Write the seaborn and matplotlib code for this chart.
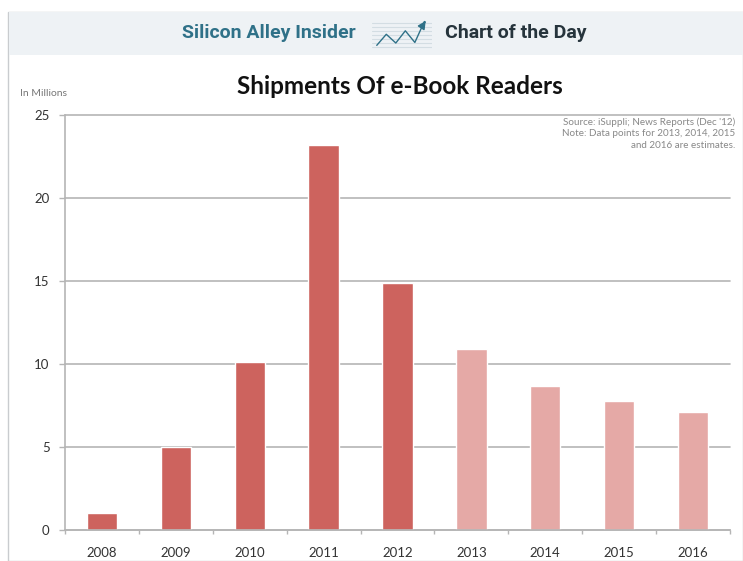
import matplotlib
matplotlib.use("Agg")
import matplotlib.pyplot as plt
from matplotlib.patches import Rectangle
import seaborn as sns
import pandas as pd

years = ["2008", "2009", "2010", "2011", "2012", "2013", "2014", "2015", "2016"]
shipments = [1.0, 5.0, 10.1, 23.2, 14.9, 10.9, 8.7, 7.8, 7.1]
kinds = ["Actual"] * 5 + ["Estimate"] * 4
y_ticks = [0, 5, 10, 15, 20, 25]
icon_x = [0, 1, 2, 3, 4, 5]
icon_y = [0.5, 2.4, 0.9, 3.0, 1.0, 4.6]

W, H = 743, 561
sns.set_theme(style="white")
plt.rcParams["font.family"] = ["Lato", "DejaVu Sans"]
fig = plt.figure(figsize=(W / 100, H / 100), dpi=100, facecolor="white")

# page frame and header band
fig.add_artist(Rectangle((8 / W, 0), (W - 8) / W, 1 - 12 / H, transform=fig.transFigure,
                         facecolor="white", edgecolor="#c9cccf", linewidth=1.0, zorder=-2))
fig.add_artist(Rectangle((9 / W, 1 - 55 / H), (W - 9) / W, 43 / H, transform=fig.transFigure,
                         facecolor="#eef2f5", edgecolor="none", zorder=-1))

fig.text(269 / W, 1 - 33 / H, "Silicon Alley Insider", family="Roboto", weight="bold",
         fontsize=14, color="#2f7188", ha="center", va="center")
fig.text(516 / W, 1 - 33 / H, "Chart of the Day", family="Roboto", weight="bold",
         fontsize=14, color="#26343c", ha="center", va="center")
fig.text(400 / W, 1 - 86 / H, "Shipments Of e-Book Readers", weight="bold",
         fontsize=17.5, color="#111111", ha="center", va="center")
fig.text(20 / W, 1 - 93 / H, "In Millions", fontsize=7.5, color="#777777", ha="left", va="center")

# header icon
icon = fig.add_axes([372 / W, 1 - 50 / H, 60 / W, 32 / H], facecolor="none")
for yy in [0.2, 0.9, 1.6, 2.3, 3.0, 3.7, 4.4]:
    icon.axhline(yy, color="#d3dde3", lw=0.8)
sns.lineplot(x=icon_x, y=icon_y, ax=icon, color="#2f7188", lw=1.0)
icon.annotate("", xy=(5.3, 5.1), xytext=(4.9, 4.1),
              arrowprops=dict(arrowstyle="-|>", color="#2f7188", lw=1))
icon.set(xlim=(-0.5, 5.8), ylim=(-0.3, 5.2), xlabel="", ylabel="", xticks=[], yticks=[])
sns.despine(ax=icon, left=True, bottom=True)

# main chart
df = pd.DataFrame({"year": years, "shipments": shipments, "kind": kinds})
ax = fig.add_axes([65 / W, 1 - 530 / H, 665 / W, 415 / H], facecolor="none")
ax.set_axisbelow(True)
sns.barplot(data=df, x="year", y="shipments", hue="kind", dodge=False, width=0.41,
            palette={"Actual": "#cd635e", "Estimate": "#e5a9a6"},
            legend=False, saturation=1, ax=ax)
ax.set_ylim(0, 25)
ax.set_xlim(-0.5, 8.5)
ax.set_yticks(y_ticks)
ax.set_xlabel("")
ax.set_ylabel("")
ax.grid(axis="y", color="#b5b5b5", lw=1.2)
ax.grid(axis="x", visible=False)
for line in ax.get_ygridlines():
    line.set_clip_on(False)
for name, spine in ax.spines.items():
    spine.set_visible(name in ("left", "bottom"))
    spine.set_color("#b5b5b5")
    spine.set_linewidth(1.2)
ax.set_xticks([i - 0.5 for i in range(10)], minor=True)
ax.tick_params(axis="x", which="minor", bottom=True, length=3, color="#b5b5b5", width=1)
ax.tick_params(axis="x", which="major", bottom=False, pad=6.5, labelsize=9.5, labelcolor="#333333")
ax.tick_params(axis="y", left=True, length=4, color="#b5b5b5", width=1, pad=7,
               labelsize=9.5, labelcolor="#333333")

note = "Source: iSuppli; News Reports (Dec '12)\nNote: Data points for 2013, 2014, 2015\nand 2016 are estimates."
fig.text(735 / W, 1 - 117 / H, note, fontsize=7.1, color="#888888", ha="right", va="top", linespacing=1.38)

fig.savefig("out.png", dpi=100)
